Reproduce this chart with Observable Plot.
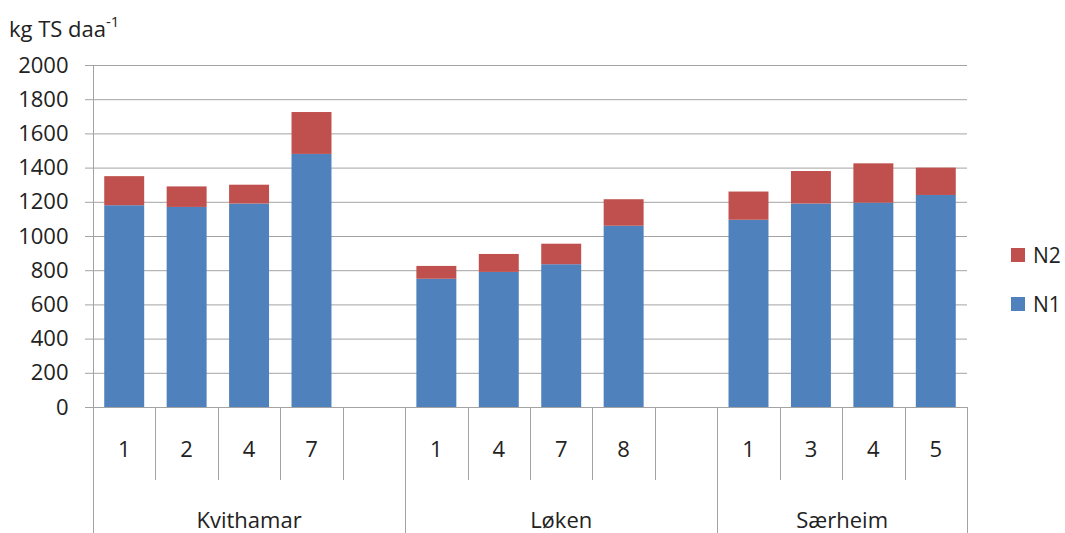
<!DOCTYPE html>
<html>
<head>
<meta charset="utf-8">
<script src="https://cdn.jsdelivr.net/npm/d3@7"></script>
<script src="https://cdn.jsdelivr.net/npm/@observablehq/plot@0.6"></script>
<style>
  body { margin: 0; background: #fff; font-family: "Open Sans", sans-serif; color: #222; }
  #wrap { position: relative; width: 1065px; height: 533px; overflow: hidden; }
  #title { position: absolute; left: 9px; top: 12px; font-size: 22px; line-height: 22px; white-space: nowrap; }
  #title sup { font-size: 15px; position: relative; top: -2px; }
  .lg { position: absolute; left: 1011px; display: flex; align-items: center; height: 15px; font-size: 21px; }
  .lg span.sw { width: 14px; height: 14px; display: inline-block; margin-right: 8px; }
</style>
</head>
<body>
<div id="wrap">
  <div id="chart"></div>
  <div id="title">kg TS daa<sup>-1</sup></div>
</div>
<script>
// ---- data ----
const sites = ["Kvithamar", "Løken", "Særheim"];
const treatmentLabels = [
  ["1", "2", "4", "7"],
  ["1", "4", "7", "8"],
  ["1", "3", "4", "5"]
];
const n1Values = [
  [1180, 1170, 1190, 1480],
  [750, 790, 835, 1060],
  [1095, 1190, 1195, 1240]
];
const n2Values = [
  [170, 120, 110, 245],
  [75, 105, 120, 155],
  [165, 190, 230, 160]
];
const seriesNames = ["N1", "N2"];
const seriesColors = ["#4F81BD", "#C0504D"];
const yTicks = [0, 200, 400, 600, 800, 1000, 1200, 1400, 1600, 1800, 2000];

// ---- build slots and rows ----
const slots = [];
sites.forEach((site, i) => {
  treatmentLabels[i].forEach(t => slots.push({key: site + "|" + t, site, label: t}));
  if (i < sites.length - 1) slots.push({key: site + "|gap", site, label: ""});
});
const rows = [];
[n1Values, n2Values].forEach((vals, si) => {
  sites.forEach((site, i) => {
    treatmentLabels[i].forEach((t, j) => {
      rows.push({slot: site + "|" + t, series: seriesNames[si], value: vals[i][j]});
    });
  });
});

const lineColor = "#a3a3a3";
const PAD = 0.36;

// custom hierarchical category axis drawn through the x scale
function categoryAxis(index, scales, values, dimensions) {
  const x = scales.x, y = scales.y;
  const bw = x.bandwidth();
  const step = x.step ? x.step() : bw / (1 - PAD);
  const off = (step - bw) / 2;
  const y0 = y(0);
  const H = dimensions.height;
  const g = d3.create("svg:g");
  const left = k => Math.round(x(k) - off) + 0.5;
  // y axis line
  g.append("line").attr("x1", left(slots[0].key)).attr("x2", left(slots[0].key))
    .attr("y1", dimensions.marginTop).attr("y2", H)
    .attr("stroke", lineColor);
  // slot dividers and labels
  slots.forEach((s, i) => {
    const lx = left(s.key);
    const isGroupStart = i === 0 || slots[i - 1].site !== s.site;
    if (i > 0) {
      g.append("line").attr("x1", lx).attr("x2", lx).attr("y1", y0)
        .attr("y2", isGroupStart ? H : y0 + 73)
        .attr("stroke", lineColor);
    }
    g.append("text").attr("x", x(s.key) + bw / 2).attr("y", y0 + 41)
      .attr("text-anchor", "middle").attr("dominant-baseline", "central")
      .attr("font-size", 22).attr("fill", "#222").text(s.label);
  });
  // right edge
  const last = slots[slots.length - 1].key;
  const rx = Math.round(x(last) - off + step) + 0.5;
  g.append("line").attr("x1", rx).attr("x2", rx).attr("y1", y0).attr("y2", H)
    .attr("stroke", lineColor);
  // group labels
  sites.forEach(site => {
    const ss = slots.filter(s => s.site === site);
    const a = x(ss[0].key) - off, b = x(ss[ss.length - 1].key) - off + step;
    g.append("text").attr("x", (a + b) / 2).attr("y", y0 + 112)
      .attr("text-anchor", "middle").attr("dominant-baseline", "central")
      .attr("font-size", 22).attr("fill", "#222").text(site);
  });
  return g.node();
}

const chart = Plot.plot({
  width: 1065,
  height: 533,
  marginTop: 65,
  marginBottom: 126,
  marginLeft: 93,
  marginRight: 98,
  style: {fontFamily: "Open Sans, sans-serif", fontSize: "22px", background: "transparent", color: "#222", overflow: "visible"},
  x: {domain: slots.map(s => s.key), paddingInner: PAD, paddingOuter: PAD / 2, round: false, axis: null},
  y: {domain: [0, 2000], axis: null},
  color: {domain: seriesNames, range: seriesColors},
  marks: [
    Plot.gridY(yTicks, {stroke: lineColor, strokeOpacity: 1}),
    Plot.axisY(yTicks, {tickSize: 8, tickPadding: 17, stroke: lineColor, strokeOpacity: 1, fill: "#222", fontSize: 22, label: null, tickFormat: d => String(d)}),
    Plot.barY(rows, {x: "slot", y: "value", fill: "series"}),
    Plot.ruleY([0], {stroke: lineColor}),
    categoryAxis
  ]
});
document.getElementById("chart").appendChild(chart);

// legend (N2 above N1)
const wrap = document.getElementById("wrap");
const legendOrder = seriesNames.slice().reverse();
legendOrder.forEach((name, i) => {
  const c = seriesColors[seriesNames.indexOf(name)];
  const d = document.createElement("div");
  d.className = "lg";
  d.style.top = (247 + i * 49) + "px";
  d.innerHTML = `<span class="sw" style="background:${c}"></span><span>${name}</span>`;
  wrap.appendChild(d);
});
</script>
</body>
</html>
